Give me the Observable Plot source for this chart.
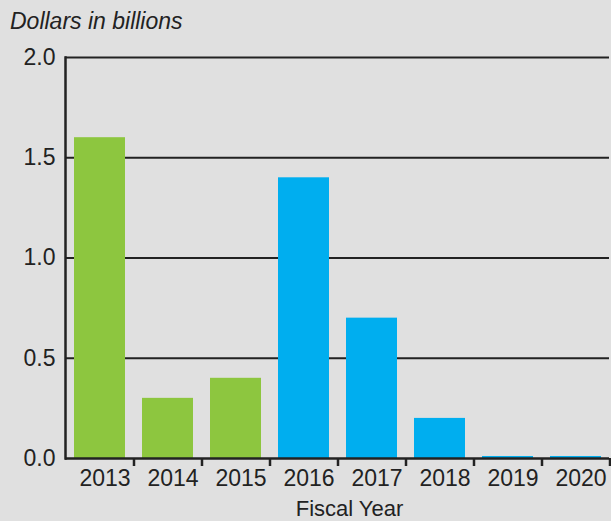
<!DOCTYPE html>
<html>
<head>
<meta charset="utf-8">
<script src="https://cdn.jsdelivr.net/npm/d3@7"></script>
<script src="https://cdn.jsdelivr.net/npm/@observablehq/plot@0.6"></script>
<style>
  html, body { margin: 0; padding: 0; background: #e0e0e0; }
  #wrap { width: 611px; height: 521px; overflow: hidden; background: #e0e0e0; }
  #title { height: 40px; box-sizing: border-box; padding: 11px 0 0 10px;
           font: italic 23px/20px "Liberation Sans", Arial, sans-serif; color: #222; }
</style>
</head>
<body>
<div id="wrap">
  <div id="title">Dollars in billions</div>
  <div id="chart"></div>
</div>
<script>
const years = ["2013", "2014", "2015", "2016", "2017", "2018", "2019", "2020"];
const values = [1.6, 0.3, 0.4, 1.4, 0.7, 0.2, 0.01, 0.01];
const groups = ["A", "A", "A", "B", "B", "B", "B", "B"];
const yTicks = [0, 0.5, 1.0, 1.5, 2.0];
const xLabel = "Fiscal Year";

const data = years.map((y, i) => ({year: y, value: values[i], group: groups[i]}));
const ink = "#222";

const chart = Plot.plot({
  width: 611,
  height: 481,
  marginLeft: 65,
  marginRight: 2,
  marginTop: 17,
  marginBottom: 63,
  style: {background: "#e0e0e0", fontFamily: "Liberation Sans, Arial, sans-serif", fontSize: "23px", color: ink},
  x: {domain: years, paddingInner: 0.25, paddingOuter: 0.125},
  y: {domain: [0, 2]},
  color: {domain: ["A", "B"], range: ["#8dc63f", "#00aeef"]},
  marks: [
    Plot.gridY(yTicks.filter(d => d > 0), {stroke: ink, strokeOpacity: 1, strokeWidth: 2}),
    Plot.barY(data, {x: "year", y: "value", fill: "group"}),
    Plot.ruleY([0], {stroke: ink, strokeWidth: 2.5}),
    Plot.frame({anchor: "left", stroke: ink, strokeWidth: 2.5}),
    Plot.axisY({ticks: yTicks, tickFormat: d3.format(".1f"), tickSize: 0, tickPadding: 10, fontSize: 23, fill: ink, label: null}),
    Plot.axisX({tickSize: 0, tickPadding: 11, dx: 5, fontSize: 23, fill: ink, label: null}),
    Plot.axisX({tickSize: 8, tickFormat: () => "", dx: 34, stroke: ink, strokeWidth: 2.5, label: null}),
    Plot.text([xLabel], {frameAnchor: "bottom", dy: 57, dx: 12, fontSize: 22, fill: ink})
  ]
});
document.getElementById("chart").appendChild(chart);
</script>
</body>
</html>
